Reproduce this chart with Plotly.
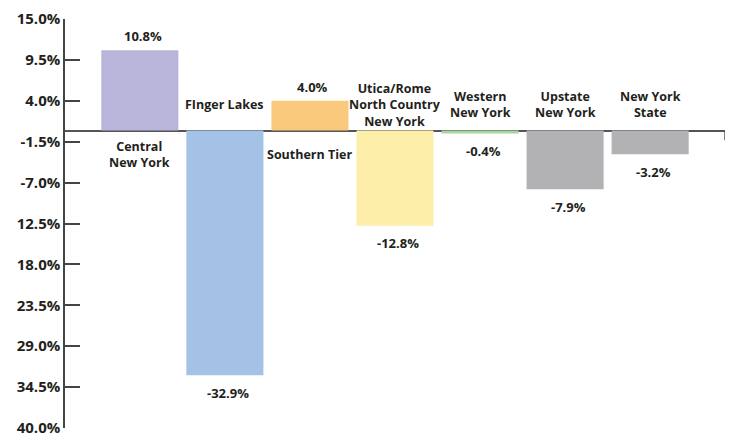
import plotly.graph_objects as go

regions = ['Central<br>New York', 'FInger Lakes', 'Southern Tier',
           'Utica/Rome<br>North Country<br>New York', 'Western<br>New York',
           'Upstate<br>New York', 'New York<br>State']
change = [10.8, -32.9, 4.0, -12.8, -0.4, -7.9, -3.2]
colors = ['#b9b4d9', '#a3c2e6', '#fbc97b', '#fdeea9', '#a5d5a1', '#b2b2b5', '#b2b2b5']
tick_vals = [15.0, 9.5, 4.0, -1.5, -7.0, -12.5, -18.0, -23.5, -29.0, -34.5, -40.0]
tick_text = ['15.0%', '9.5%', '4.0%', '-1.5%', '-7.0%', '12.5%', '18.0%',
             '23.5%', '29.0%', '34.5%', '40.0%']

FONT = 'Open Sans'
INK = '#231f20'

fig = go.Figure()
fig.add_trace(go.Bar(
    x=list(range(len(regions))),
    y=change,
    marker_color=colors,
    marker_line_width=0,
    hoverinfo='skip'
))

annotations = []
for i, (name, v) in enumerate(zip(regions, change)):
    # value label beyond the end of the bar
    annotations.append(dict(
        x=i, y=v, text='%.1f%%' % v, showarrow=False, yanchor='middle',
        xshift=3, yshift=14 if v > 0 else -17.5,
        font=dict(family=FONT, size=13, color=INK, weight='bold')
    ))
    # region name on the other side of the zero line
    annotations.append(dict(
        x=i, y=0, text=name, showarrow=False, yanchor='middle',
        yshift=-23.5 if v > 0 else 26,
        font=dict(family=FONT, size=12.5, color=INK, weight='bold')
    ))

# the page body adds an 8px offset, margins are set against that
fig.update_layout(
    width=733, height=433,
    margin=dict(l=57, r=16, t=11, b=13, autoexpand=False),
    plot_bgcolor='white', paper_bgcolor='white',
    showlegend=False,
    bargap=0.094,
    annotations=annotations,
    shapes=[dict(type='line', xref='paper', yref='y', x0=1, x1=1, y0=0, y1=-1.3,
                 line=dict(color='#555', width=1.5))]
)
fig.update_xaxes(range=[-0.88, 6.88], showticklabels=False, showgrid=False,
                 zeroline=False, showline=False, ticks='', automargin=False)
fig.update_yaxes(range=[-40, 15], tickvals=tick_vals, ticktext=tick_text,
                 showgrid=False, showline=True, linecolor='#444', linewidth=1.5,
                 ticks='inside', ticklen=15, tickwidth=1.5, tickcolor='#444',
                 zeroline=True, zerolinecolor='#555', zerolinewidth=1.5,
                 automargin=False, ticklabeloverflow='allow',
                 tickfont=dict(family=FONT, size=15, color=INK, weight='bold'))

fig.write_html('out.html')
